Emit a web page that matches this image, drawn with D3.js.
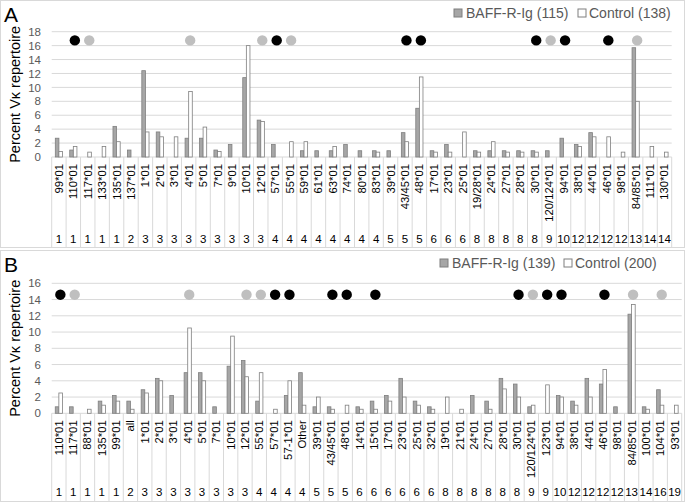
<!DOCTYPE html>
<html>
<head>
<meta charset="utf-8">
<script src="https://cdn.jsdelivr.net/npm/d3@7"></script>
<style>
  body { margin: 0; background: #fff; }
  svg { font-family: "Liberation Sans", Arial, sans-serif; }
</style>
</head>
<body>
<div id="chart"></div>
<script>
// Panel A data
var aGenes = ["99*01","110*01","117*01","133*01","135*01","137*01","1*01","2*01","3*01","4*01","5*01","7*01","9*01",
  "10*01","12*01","57*01","55*01","59*01","61*01","63*01","74*01","80*01","83*01","39*01","43/45*01","48*01","17*01",
  "23*01","25*01","19/28*01","24*01","27*01","28*01","30*01","120/124*01","94*01","38*01","44*01","46*01","98*01",
  "84/85*01","111*01","130*01"];
var aFamilies = ["1","1","1","1","1","2","3","3","3","3","3","3","3","3","3","4","4","4","4","4","4","4","4","5","5","5",
  "6","6","6","8","8","8","8","8","9","10","12","12","12","12","13","14","14"];
var aBaff = [2.7,1.0,0,0,4.4,1.0,12.4,3.6,0,2.7,2.7,1.0,1.8,11.4,5.3,1.8,0,0.9,0.9,0.9,1.8,0.9,0.9,0.9,3.5,7.0,0.9,
  1.8,0,0.9,0.9,0.9,0.9,0.9,0.9,2.7,1.8,3.5,0,0,15.7,0,0];
var aControl = [0.8,1.5,0.7,1.5,2.2,0,3.6,2.9,2.9,9.4,4.3,0.8,0,16.0,5.1,0,2.2,2.2,0,1.5,0,0,0.7,0,2.2,11.5,0.7,
  0.7,3.6,0.7,2.2,0.7,0.7,0.7,0,0,1.5,2.9,2.9,0.7,8.0,1.5,0.7];
var aBlackDots = ["110*01","57*01","43/45*01","48*01","30*01","94*01","46*01"];
var aGreyDots = ["117*01","4*01","12*01","55*01","120/124*01","84/85*01"];
var aTicks = [0,2,4,6,8,10,12,14,16,18];

// Panel B data
var bGenes = ["110*01","117*01","88*01","135*01","99*01","all","1*01","2*01","3*01","4*01","5*01","7*01","10*01",
  "12*01","55*01","57*01","57-1*01","Other","39*01","43/45*01","48*01","14*01","15*01","17*01","23*01","25*01",
  "32*01","19*01","21*01","24*01","27*01","28*01","30*01","120/124*01","123*01","94*01","38*01","44*01","46*01",
  "98*01","84/85*01","100*01","104*01","93*01"];
var bFamilies = ["1","1","1","1","1","2","3","3","3","3","3","3","3","3","4","4","4","4","5","5","5","6","6","6",
  "6","6","6","8","8","8","8","8","8","9","9","10","12","12","12","12","13","14","16","19"];
var bBaff = [0.8,0.8,0,1.5,2.2,1.5,2.9,4.3,2.2,5.0,5.0,0.8,5.8,6.5,1.5,0,2.2,5.0,0.8,0.8,0,0.8,1.5,2.2,4.3,1.5,
  0.8,0,0,2.2,1.5,4.3,3.6,0.8,0,2.2,1.5,4.3,3.6,0.8,12.2,0.8,2.9,0];
var bControl = [2.5,0,0.5,1.0,1.5,0.5,2.5,4.0,0,10.5,4.0,0,9.5,4.5,5.0,0.5,4.0,1.0,2.0,0.5,1.0,0.5,0.5,1.5,2.0,1.0,
  0.5,2.0,0.5,0,0.5,3.0,2.0,1.0,3.5,2.0,1.0,2.0,5.4,0,13.4,0.5,1.0,1.0];
var bBlackDots = ["110*01","57*01","57-1*01","43/45*01","48*01","15*01","30*01","123*01","94*01","46*01"];
var bGreyDots = ["117*01","4*01","12*01","55*01","120/124*01","84/85*01","104*01"];
var bTicks = [0,2,4,6,8,10,12,14,16];

var WIDTH = 685, HEIGHT = 502;
var GREY = "#a6a6a6", GREY_LINE = "#7f7f7f", GRID = "#d9d9d9", TEXT = "#595959";

var svg = d3.select("#chart").append("svg")
  .attr("width", WIDTH)
  .attr("height", HEIGHT);

var drawPanel = function (p) {
  var g = svg.append("g").attr("transform", "translate(0," + p.top + ")");

  // frame
  g.append("rect")
    .attr("x", 0.5).attr("y", 0.5)
    .attr("width", WIDTH - 1).attr("height", p.height - 1)
    .attr("fill", "none").attr("stroke", GRID);

  g.append("text")
    .attr("x", 4).attr("y", 22)
    .attr("font-size", 21).attr("fill", "#000")
    .text(p.letter);

  var x = d3.scaleBand().domain(p.genes).range([p.left, p.right]);
  var y = d3.scaleLinear().domain([0, p.yMax]).range([p.plotBottom, p.plotTop]);
  var barW = 3.6;

  // gridlines
  g.selectAll(".grid").data(p.ticks.slice(1)).enter().append("line")
    .attr("x1", p.left).attr("x2", p.right)
    .attr("y1", function (d) { return y(d); }).attr("y2", function (d) { return y(d); })
    .attr("stroke", GRID).attr("stroke-width", 1);

  // y tick labels
  var yAxis = d3.axisLeft(y).tickValues(p.ticks).tickSize(0).tickPadding(0);
  var ya = g.append("g").attr("transform", "translate(41,0)").call(yAxis);
  ya.select(".domain").remove();
  ya.selectAll("text").attr("font-size", 11.5).attr("fill", TEXT)
    .attr("font-family", "Liberation Sans, Arial, sans-serif");

  // y title
  g.append("text")
    .attr("transform", "translate(20," + ((p.plotTop + p.plotBottom) / 2) + ") rotate(-90)")
    .attr("text-anchor", "middle")
    .attr("font-size", 14.5).attr("fill", "#000")
    .text("Percent V\u03ba repertoire");

  // category table lines
  var edges = p.genes.map(function (d) { return x(d); }).concat([p.right]);
  g.selectAll(".cell").data(edges).enter().append("line")
    .attr("x1", function (d) { return d; }).attr("x2", function (d) { return d; })
    .attr("y1", p.plotBottom).attr("y2", p.height - 1)
    .attr("stroke", GRID);
  g.append("line")
    .attr("x1", p.left).attr("x2", p.right)
    .attr("y1", p.plotBottom).attr("y2", p.plotBottom)
    .attr("stroke", GRID);

  // bars
  var cx = function (d) { return x(d) + x.bandwidth() / 2; };
  g.selectAll(".baff").data(p.genes).enter().append("rect")
    .attr("x", function (d) { return cx(d) - barW; })
    .attr("width", barW)
    .attr("y", function (d, i) { return y(p.baff[i]); })
    .attr("height", function (d, i) { return p.plotBottom - y(p.baff[i]); })
    .attr("fill", GREY).attr("stroke", GREY_LINE).attr("stroke-width", 0.8)
    .style("display", function (d, i) { return p.baff[i] > 0 ? null : "none"; });
  g.selectAll(".ctrl").data(p.genes).enter().append("rect")
    .attr("x", function (d) { return cx(d); })
    .attr("width", barW)
    .attr("y", function (d, i) { return y(p.control[i]); })
    .attr("height", function (d, i) { return p.plotBottom - y(p.control[i]); })
    .attr("fill", "#fff").attr("stroke", GREY_LINE).attr("stroke-width", 0.8)
    .style("display", function (d, i) { return p.control[i] > 0 ? null : "none"; });

  // significance dots
  g.selectAll(".bdot").data(p.blackDots).enter().append("circle")
    .attr("cx", function (d) { return cx(d) + 1.5; }).attr("cy", y(p.dotY))
    .attr("r", 5.2).attr("fill", "#000");
  g.selectAll(".gdot").data(p.greyDots).enter().append("circle")
    .attr("cx", function (d) { return cx(d) + 1.5; }).attr("cy", y(p.dotY))
    .attr("r", 5.2).attr("fill", "#bfbfbf");

  // gene labels
  g.selectAll(".gene").data(p.genes).enter().append("text")
    .attr("transform", function (d) { return "translate(" + (cx(d) + 4) + "," + (p.plotBottom + 7) + ") rotate(-90)"; })
    .attr("text-anchor", "end")
    .attr("font-size", 11.3).attr("fill", "#000")
    .text(function (d) { return d; });

  // family numbers
  g.selectAll(".fam").data(p.genes).enter().append("text")
    .attr("x", function (d) { return cx(d); })
    .attr("y", p.famY)
    .attr("text-anchor", "middle")
    .attr("font-size", 11.5).attr("fill", "#000")
    .text(function (d, i) { return p.families[i]; });

  // legend
  var lg = g.append("g").attr("transform", "translate(" + p.legendX + ",18)");
  lg.append("rect").attr("x", 0).attr("y", -9).attr("width", 8).attr("height", 8)
    .attr("fill", GREY).attr("stroke", GREY_LINE);
  lg.append("text").attr("x", 12).attr("y", 0).attr("font-size", 14).attr("fill", TEXT)
    .text("BAFF-R-Ig (" + p.nBaff + ")");
  lg.append("rect").attr("x", p.legendGap).attr("y", -9).attr("width", 8).attr("height", 8)
    .attr("fill", "#fff").attr("stroke", GREY_LINE);
  lg.append("text").attr("x", p.legendGap + 11).attr("y", 0).attr("font-size", 14).attr("fill", TEXT)
    .text("Control (" + p.nCtrl + ")");
};

drawPanel({
  letter: "A", top: 0, height: 248,
  genes: aGenes, families: aFamilies, baff: aBaff, control: aControl,
  blackDots: aBlackDots, greyDots: aGreyDots, ticks: aTicks, yMax: 18, dotY: 16.75,
  left: 51.7, right: 671.7, plotTop: 31.7, plotBottom: 157, famY: 243,
  legendX: 454, legendGap: 124, nBaff: 115, nCtrl: 138
});

drawPanel({
  letter: "B", top: 250, height: 252,
  genes: bGenes, families: bFamilies, baff: bBaff, control: bControl,
  blackDots: bBlackDots, greyDots: bGreyDots, ticks: bTicks, yMax: 16, dotY: 14.6,
  left: 51.7, right: 681.7, plotTop: 33.3, plotBottom: 163.3, famY: 246,
  legendX: 440, legendGap: 124, nBaff: 139, nCtrl: 200
});
</script>
</body>
</html>
